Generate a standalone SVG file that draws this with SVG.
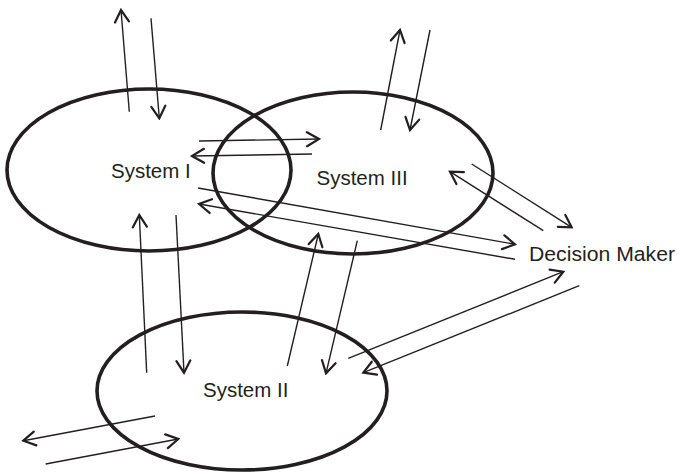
<svg xmlns="http://www.w3.org/2000/svg" width="677" height="474" viewBox="0 0 677 474">
<defs>
<marker id="ah" viewBox="-14 -9 16 18" markerWidth="16" markerHeight="18" refX="0" refY="0" orient="auto" markerUnits="userSpaceOnUse">
<path d="M-12,-7 L0,0 L-12,7" fill="none" stroke="#231f20" stroke-width="2.2" stroke-linecap="round" stroke-linejoin="miter"/>
</marker>
<style>
.sys{fill:none;stroke:#231f20;stroke-width:3.6}
.lbl{font-family:"Liberation Sans",Arial,sans-serif;font-size:20.5px;fill:#231f20}
.c line{stroke:#231f20;stroke-width:1.4;marker-end:url(#ah)}
</style>
</defs>
<rect width="677" height="474" fill="#ffffff"/>
<g id="system-1"><ellipse class="sys" cx="149" cy="170" rx="142" ry="81"/><text class="lbl" x="111" y="178">System I</text></g>
<g id="system-3"><ellipse class="sys" cx="353" cy="173" rx="140" ry="81"/><text class="lbl" x="316.5" y="185">System III</text></g>
<g id="system-2"><ellipse class="sys" cx="242" cy="391" rx="145" ry="79"/><text class="lbl" x="203" y="396.5">System II</text></g>
<g id="decision-maker"><text class="lbl" x="529" y="261" textLength="146" lengthAdjust="spacingAndGlyphs">Decision Maker</text></g>
<g id="connectors" class="c">
<line x1="129.3" y1="111.7" x2="121" y2="10"/>
<line x1="151" y1="18.3" x2="159.3" y2="118.3"/>
<line x1="199" y1="141" x2="319" y2="139"/>
<line x1="312" y1="154" x2="192" y2="156"/>
<line x1="198" y1="188" x2="515" y2="244.3"/>
<line x1="515" y1="259.3" x2="199" y2="204"/>
<line x1="380.7" y1="130" x2="400" y2="30"/>
<line x1="430" y1="30" x2="410" y2="130"/>
<line x1="471.7" y1="164" x2="571.7" y2="227.3"/>
<line x1="543.3" y1="230.7" x2="450" y2="171.7"/>
<line x1="155" y1="416" x2="23.3" y2="440.7"/>
<line x1="45.7" y1="464" x2="178.3" y2="439"/>
<line x1="146.7" y1="372.7" x2="139.3" y2="215"/>
<line x1="176" y1="215" x2="184" y2="372.7"/>
<line x1="287.3" y1="366" x2="318.3" y2="234"/>
<line x1="357.3" y1="240.7" x2="326" y2="373.3"/>
<line x1="348.3" y1="358.3" x2="563.3" y2="271.7"/>
<line x1="579.3" y1="285.7" x2="363.3" y2="372.7"/>
</g>
</svg>
